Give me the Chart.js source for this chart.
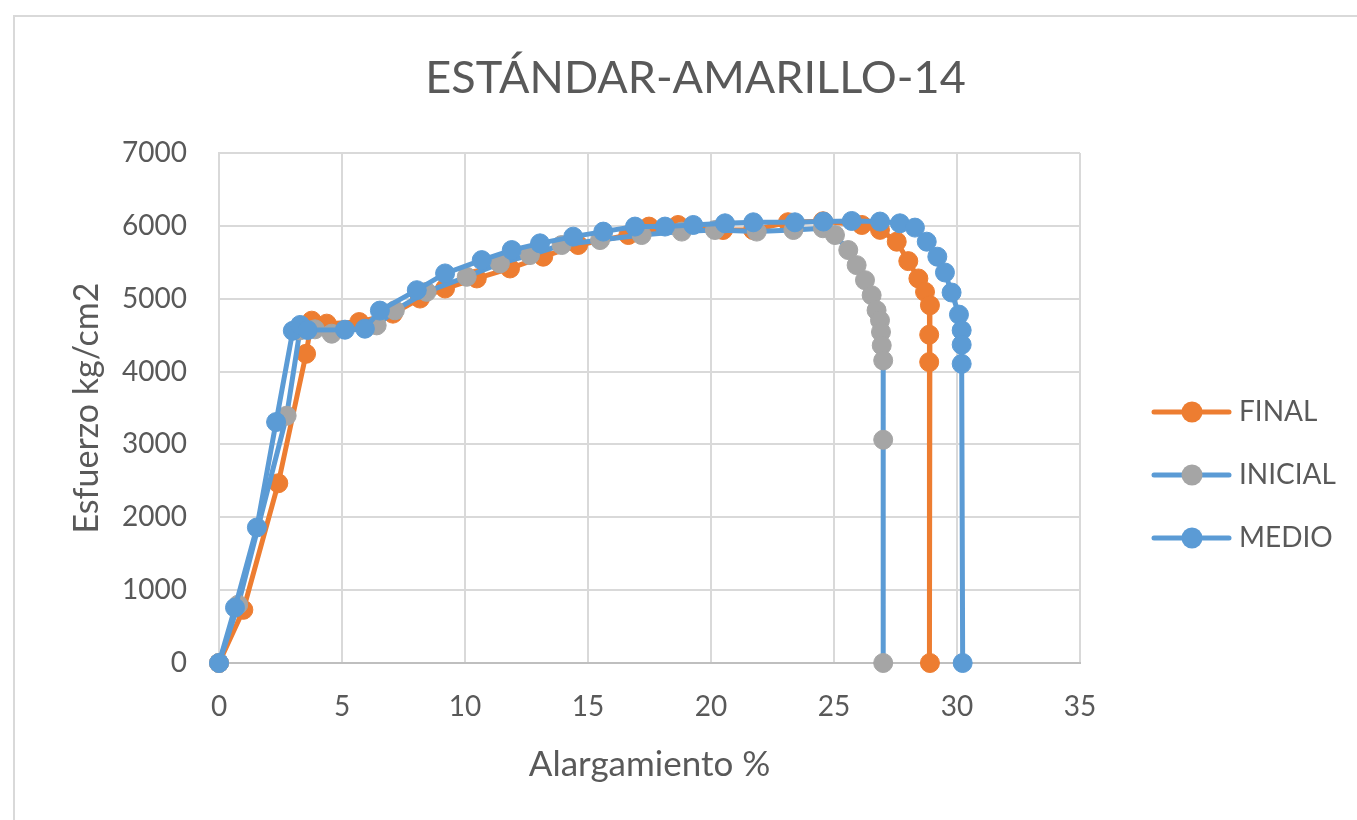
<!DOCTYPE html>
<html>
<head>
<meta charset="utf-8">
<title>ESTÁNDAR-AMARILLO-14</title>
<script src="https://cdn.jsdelivr.net/npm/chart.js@4/dist/chart.umd.min.js"></script>
<style>
  html, body { margin: 0; padding: 0; background: #ffffff; overflow: hidden; }
  #wrap { position: relative; width: 1357px; height: 820px; }
  #frame { position: absolute; left: 13px; top: 15px; width: 1400px; height: 900px;
           border: 2px solid #d9d9d9; box-sizing: border-box; }
  #chart { position: absolute; left: 0; top: 0; }
</style>
</head>
<body>
<div id="wrap">
  <div id="frame"></div>
  <canvas id="chart" width="1357" height="820"></canvas>
</div>
<script>
// Alargamiento (%) and esfuerzo (kg/cm2) for each specimen section
const finalX = [0, 0.99, 2.41, 3.54, 3.77, 4.38, 5.7, 7.07, 8.17, 9.19, 10.48, 11.83, 13.18, 14.6, 16.64, 17.48, 18.66, 20.49, 21.71, 23.13, 24.55, 26.13, 26.87, 27.55, 28.02, 28.43, 28.7, 28.9, 28.87, 28.87, 28.9];
const finalY = [0, 730, 2467, 4244, 4699, 4658, 4680, 4795, 5002, 5140, 5278, 5415, 5577, 5737, 5874, 5990, 6012, 5943, 5943, 6050, 6063, 6012, 5945, 5783, 5516, 5278, 5094, 4910, 4506, 4130, 0];

const inicialX = [0, 0.78, 2.75, 3.29, 3.9, 4.58, 6.41, 7.15, 8.44, 10.07, 11.42, 12.64, 13.93, 15.49, 17.18, 18.81, 20.16, 21.86, 23.35, 24.55, 25.04, 25.58, 25.92, 26.26, 26.53, 26.73, 26.87, 26.91, 26.94, 27.0, 27.0, 27.0];
const inicialY = [0, 800, 3394, 4565, 4580, 4520, 4634, 4841, 5094, 5301, 5484, 5599, 5737, 5805, 5874, 5921, 5943, 5921, 5943, 5967, 5874, 5668, 5461, 5254, 5048, 4841, 4703, 4543, 4359, 4152, 3064, 0];

const medioX = [0, 0.65, 1.54, 2.32, 3.0, 3.3, 3.6, 5.12, 5.93, 6.54, 8.04, 9.19, 10.68, 11.9, 13.05, 14.4, 15.62, 16.91, 18.13, 19.28, 20.57, 21.72, 23.41, 24.57, 25.72, 26.87, 27.68, 28.29, 28.77, 29.2, 29.51, 29.78, 30.08, 30.19, 30.19, 30.19, 30.23];
const medioY = [0, 760, 1860, 3307, 4560, 4640, 4570, 4575, 4589, 4837, 5117, 5347, 5530, 5668, 5760, 5852, 5921, 5990, 5990, 6012, 6035, 6049, 6049, 6059, 6067, 6059, 6035, 5976, 5783, 5577, 5360, 5085, 4782, 4566, 4369, 4106, 0];

const seriesNames = ['FINAL', 'INICIAL', 'MEDIO'];
const xTicks = [0, 5, 10, 15, 20, 25, 30, 35];
const yTicks = [0, 1000, 2000, 3000, 4000, 5000, 6000, 7000];

const ORANGE = '#ED7D31';
const BLUE = '#5B9BD5';
const GRAY = '#A5A5A5';
const TEXT = '#595959';
const FONT = 'Lato, "Open Sans", "Noto Sans", sans-serif';

function points(xs, ys) {
  return xs.map((x, i) => ({ x: x, y: ys[i] }));
}

// Legend swatch: a short line with the marker in the middle
function swatch(lineColor, markerColor) {
  const c = document.createElement('canvas');
  c.width = 96; c.height = 24;
  const g = c.getContext('2d');
  g.strokeStyle = lineColor;
  g.lineWidth = 5;
  g.lineCap = 'round';
  g.beginPath(); g.moveTo(17, 12); g.lineTo(92, 12); g.stroke();
  g.fillStyle = markerColor;
  g.beginPath(); g.arc(55, 12, 10.5, 0, Math.PI * 2); g.fill();
  return c;
}

const styles = [
  { line: ORANGE, marker: ORANGE, order: 3 },
  { line: BLUE, marker: GRAY, order: 2 },
  { line: BLUE, marker: BLUE, order: 1 }
];
const swatches = styles.map(s => swatch(s.line, s.marker));

function makeDataset(i, data) {
  const s = styles[i];
  return {
    label: seriesNames[i],
    data: data,
    order: s.order,
    clip: false,
    borderColor: s.line,
    backgroundColor: s.marker,
    borderWidth: 5,
    pointRadius: 9.5,
    pointBorderWidth: 1,
    pointBackgroundColor: s.marker,
    pointBorderColor: s.marker,
    tension: 0,
    fill: false
  };
}

// Nudge the legend block to sit right of the plot, centred lower down,
// and centre the title over the framed area
const blockOffsets = {
  id: 'blockOffsets',
  afterLayout(chart) {
    const l = chart.legend;
    if (l) {
      l.left += 30; l.right += 30;
      l.top += 72; l.bottom += 72;
    }
    const t = chart.titleBlock;
    if (t) { t.left += 12; t.right += 12; }
  }
};

new Chart(document.getElementById('chart'), {
  type: 'line',
  data: {
    datasets: [
      makeDataset(0, points(finalX, finalY)),
      makeDataset(1, points(inicialX, inicialY)),
      makeDataset(2, points(medioX, medioY))
    ]
  },
  plugins: [blockOffsets],
  options: {
    responsive: false,
    animation: false,
    events: [],
    layout: { padding: { left: 20, top: 15, right: 10, bottom: 29 } },
    scales: {
      x: {
        type: 'linear',
        min: 0, max: 35,
        afterBuildTicks: (s) => { s.ticks = xTicks.map(v => ({ value: v })); },
        afterFit: (s) => { s.height = 128; s.paddingRight = 277; },
        grid: { color: '#d9d9d9', lineWidth: 2, drawTicks: false },
        border: { color: '#bfbfbf', width: 2 },
        ticks: { padding: 27, color: TEXT, font: { family: FONT, size: 28 },
                 callback: (v) => String(v) },
        title: {
          display: true, text: 'Alargamiento %', color: TEXT,
          font: { family: FONT, size: 35 }, padding: { top: 0, bottom: 5 }
        }
      },
      y: {
        type: 'linear',
        min: 0, max: 7000,
        afterBuildTicks: (s) => { s.ticks = yTicks.map(v => ({ value: v })); },
        afterFit: (s) => { s.width = 199; },
        grid: { color: '#d9d9d9', lineWidth: 2, drawTicks: false },
        border: { color: '#d9d9d9', width: 2 },
        ticks: { padding: 32, color: TEXT, font: { family: FONT, size: 28 },
                 callback: (v) => String(v) },
        title: {
          display: true, text: 'Esfuerzo kg/cm2', color: TEXT,
          font: { family: FONT, size: 34 }, padding: { top: 47, bottom: 0 }
        }
      }
    },
    plugins: {
      tooltip: { enabled: false },
      title: {
        display: true,
        text: 'ESTÁNDAR-AMARILLO-14',
        color: TEXT,
        font: { family: FONT, size: 45, weight: 'normal' },
        padding: { top: 36, bottom: 48 }
      },
      legend: {
        position: 'right',
        align: 'center',
        labels: {
          usePointStyle: true,
          pointStyleWidth: 80,
          boxHeight: 24,
          padding: 35,
          color: TEXT,
          font: { family: FONT, size: 28 },
          sort: (a, b) => a.datasetIndex - b.datasetIndex,
          generateLabels: (chart) => {
            const items = Chart.defaults.plugins.legend.labels.generateLabels(chart);
            items.forEach(it => { it.pointStyle = swatches[it.datasetIndex]; it.lineWidth = 0; });
            return items;
          }
        }
      }
    }
  }
});
</script>
</body>
</html>
